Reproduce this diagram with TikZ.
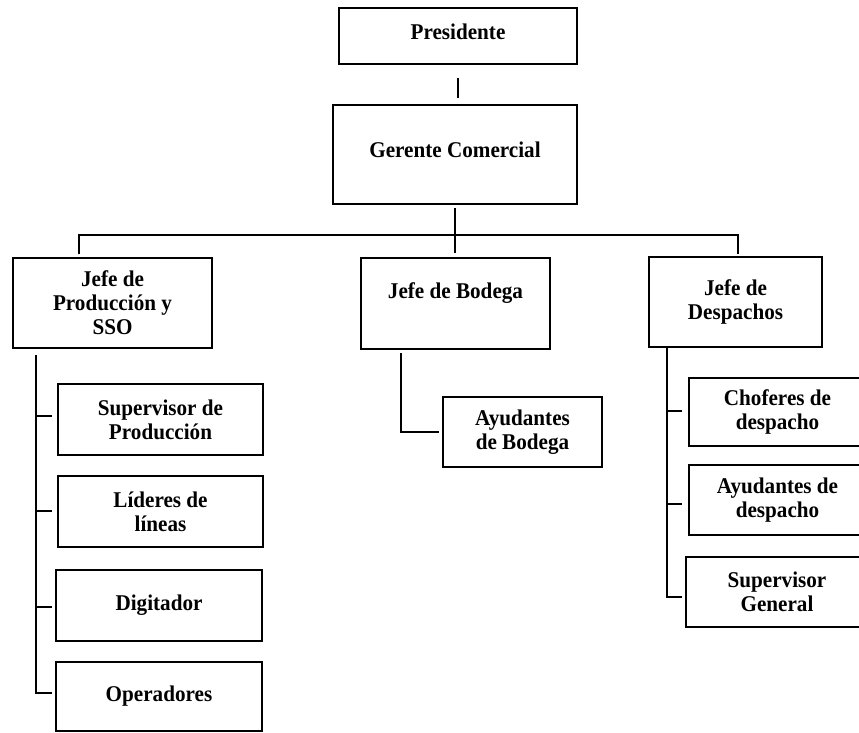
\documentclass[tikz,border=0pt]{standalone}
\usepackage{fontspec}
\setmainfont{Liberation Serif}[FakeStretch=0.94]
\begin{document}
\begin{tikzpicture}[x=1pt,y=-1pt,
  orgfont/.style={font=\bfseries\fontsize{22.5}{24}\selectfont},
  unit/.style={draw=black, line width=2pt, rectangle, inner sep=0pt,
    align=center, orgfont},
  caption/.style={inner sep=0pt, align=center, orgfont},
  link/.style={draw=black, line width=2pt}]
\useasboundingbox (0,0) rectangle (859,733);
\clip (0,0) rectangle (859,733);

% top of the chart
\node[unit, minimum width=238pt, minimum height=56pt] (pres) at (458,36) {};
\node[caption] (presT) at ([yshift=4pt]pres.center) {Presidente};
\node[unit, minimum width=244pt, minimum height=99pt] (ger) at (455,154.5) {};
\node[caption] (gerT) at ([yshift=4.5pt]ger.center) {Gerente Comercial};

% department heads
\node[unit, minimum width=199pt, minimum height=90pt] (jp) at (112.5,303)
  {Jefe de\\Producción y\\SSO};
\node[unit, minimum width=189pt, minimum height=91pt] (jb) at (455.5,303.5) {};
\node[caption] (jbT) at ([yshift=10pt]jb.center) {Jefe de Bodega};
\node[unit, minimum width=173pt, minimum height=90pt] (jd) at (735.5,302)
  {Jefe de\\Despachos};

% production staff
\node[unit, minimum width=205pt, minimum height=71pt] (sp) at (160.5,419.5)
  {Supervisor de\\Producción};
\node[unit, minimum width=205pt, minimum height=71pt] (li) at (160.5,511.5)
  {Líderes de\\líneas};
\node[unit, minimum width=206pt, minimum height=71pt] (di) at (159,605.5)
  {Digitador};
\node[unit, minimum width=206pt, minimum height=69pt] (op) at (159,696.5)
  {Operadores};

% warehouse staff
\node[unit, minimum width=159pt, minimum height=70pt] (ab) at (522.5,432)
  {Ayudantes\\de Bodega};

% dispatch staff
\node[unit, minimum width=177pt, minimum height=68pt] (ch) at (777.5,412)
  {Choferes de\\despacho};
\node[unit, minimum width=177pt, minimum height=70pt] (ad) at (777.5,500)
  {Ayudantes de\\despacho};
\node[unit, minimum width=182pt, minimum height=70pt] (sg) at (777,592)
  {Supervisor\\General};

% upper connectors
\draw[link] ([yshift=-13pt]pres.south) -- ([yshift=6pt]pres.south |- ger.north);
\draw[link] ([yshift=-3pt]ger.south) -- ([yshift=4pt]ger.south |- jb.north);
\coordinate (busL) at (79,235);
\coordinate (busR) at (738,235);
\draw[link] ([yshift=3pt]busL |- jp.north) -- (busL) -- (busR)
  -- ([yshift=2pt]busR |- jd.north);

% production branch
\coordinate (spL) at (36,355);
\draw[link] (spL) |- ([xshift=-3pt,yshift=3.5pt]op.west);
\draw[link] ([yshift=3.5pt]spL |- sp.west) -- ([xshift=-5pt,yshift=3.5pt]sp.west);
\draw[link] ([yshift=0.5pt]spL |- li.west) -- ([xshift=-5pt,yshift=0.5pt]li.west);
\draw[link] ([yshift=-1.5pt]spL |- di.west) -- ([xshift=-3pt,yshift=-1.5pt]di.west);

% warehouse branch
\coordinate (spM) at (401,353);
\draw[link] (spM) |- ([xshift=-3pt]ab.west);

% dispatch branch
\coordinate (spR) at (667,348);
\draw[link] (spR) |- ([xshift=-3pt,yshift=-5pt]sg.west);
\draw[link] ([yshift=1pt]spR |- ch.west) -- ([xshift=-6pt,yshift=1pt]ch.west);
\draw[link] ([yshift=-4pt]spR |- ad.west) -- ([xshift=-6pt,yshift=-4pt]ad.west);
\end{tikzpicture}
\end{document}
